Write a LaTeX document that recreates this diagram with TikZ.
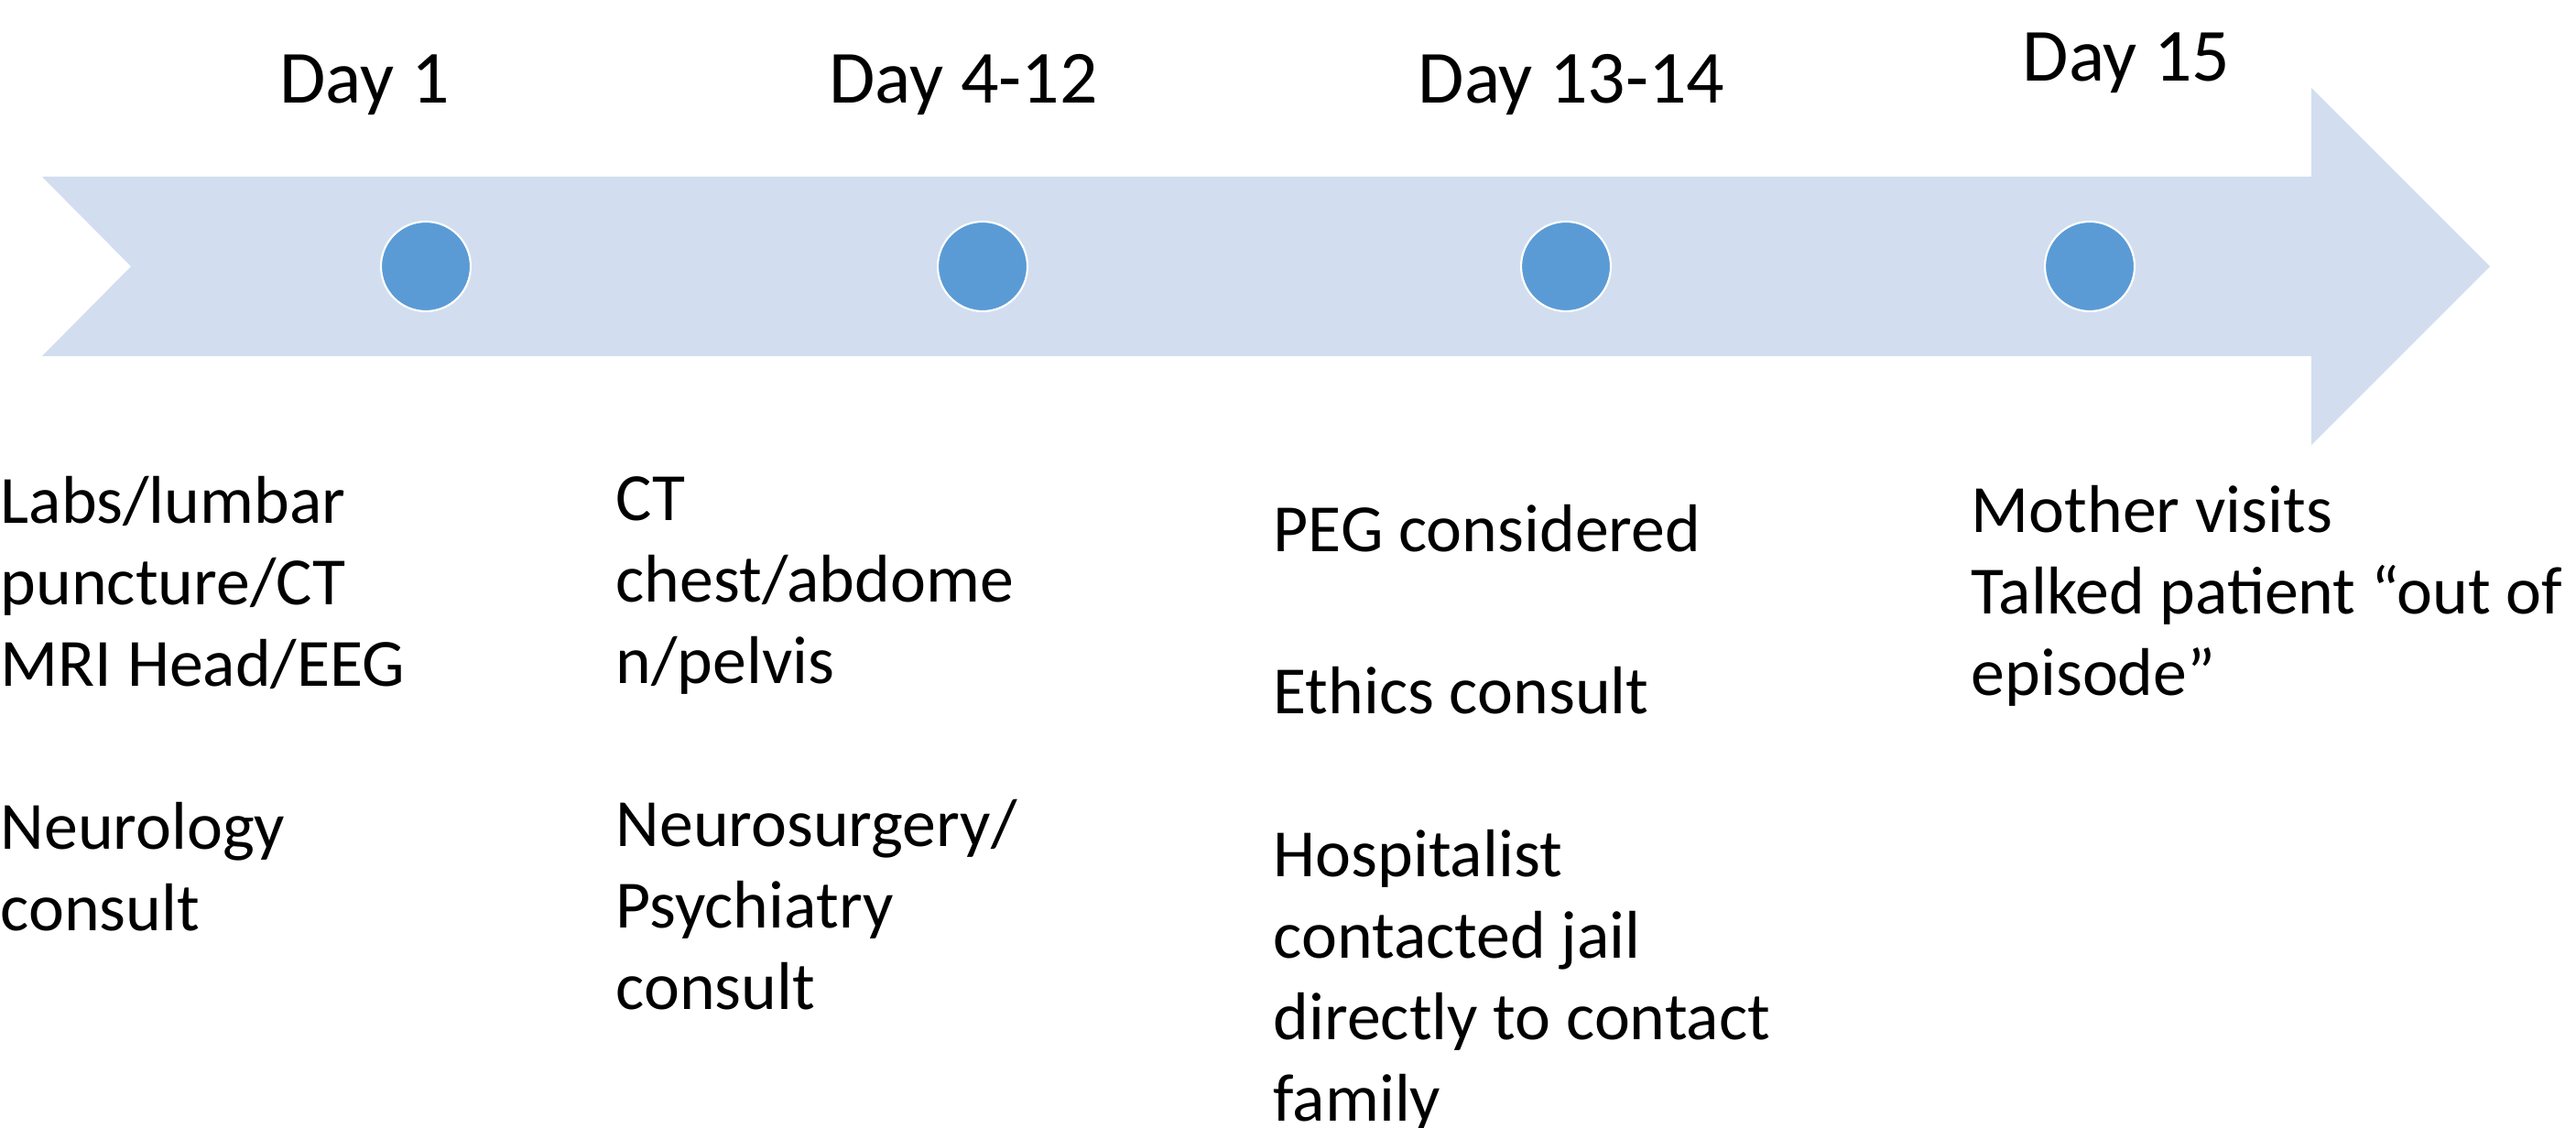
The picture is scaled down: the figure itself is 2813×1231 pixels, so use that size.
\documentclass[tikz,border=0pt]{standalone}
\usepackage{fontspec}
\setmainfont{Carlito}
\definecolor{bandblue}{HTML}{D2DEEF}
\definecolor{dotblue}{HTML}{5B9BD5}
\tikzset{
  daydot/.style={circle, fill=dotblue, draw=white, line width=0.6pt, minimum size=9.8mm, inner sep=0pt},
  daylabel/.style={anchor=base, inner sep=0pt, font=\fontsize{23.3}{25.3}\selectfont},
  events/.style={anchor=base west, inner sep=0pt, font=\fontsize{21}{25.3}\selectfont},
}
\newcommand{\evlines}[1]{\begin{tabular}[t]{@{}l@{}}#1\end{tabular}}
\begin{document}
\begin{tikzpicture}[x=0.1mm, y=0.1mm]
  \useasboundingbox (0,0) rectangle (2813,1231);

  % timeline band
  \coordinate (TL) at (46,1038);
  \coordinate (N) at (143,940);
  \coordinate (BL) at (46,842);
  \coordinate (HT) at (2524,1135);
  \coordinate (HB) at (2524,745);
  \coordinate (tip) at (2719,940);
  \fill[bandblue] (TL) -- (2524,1038) -- (HT) -- (tip) -- (HB) -- (2524,842) -- (BL) -- (N) -- cycle;

  \node[daydot] (d1) at (465,940) {};
  \node[daydot] (d2) at (1073,940) {};
  \node[daydot] (d3) at (1710,940) {};
  \node[daydot] (d4) at (2282,940) {};

  \node[daylabel] (l1) at (398,1118) {Day 1};
  \node[daylabel] (l2) at (1052,1118) {Day 4-12};
  \node[daylabel] (l3) at (1716,1118) {Day 13-14};
  \node[daylabel] (l4) at (2322,1142) {Day 15};

  \node[events] (e1) at (0,659) {\evlines{Labs/lumbar\\ puncture/CT\\ MRI Head/EEG\\ \\ Neurology\\ consult}};
  \node[events] (e2) at (672,662) {\evlines{CT\\ chest/abdome\\ n/pelvis\\ \\ Neurosurgery/\\ Psychiatry\\ consult}};
  \node[events] (e3) at (1390,629) {\evlines{PEG considered\\ \\ Ethics consult\\ \\ Hospitalist\\ contacted jail\\ directly to contact\\ family}};
  \node[events] (e4) at (2152,649) {\evlines{Mother visits\\ Talked patient “out of\\ episode”}};
\end{tikzpicture}
\end{document}
